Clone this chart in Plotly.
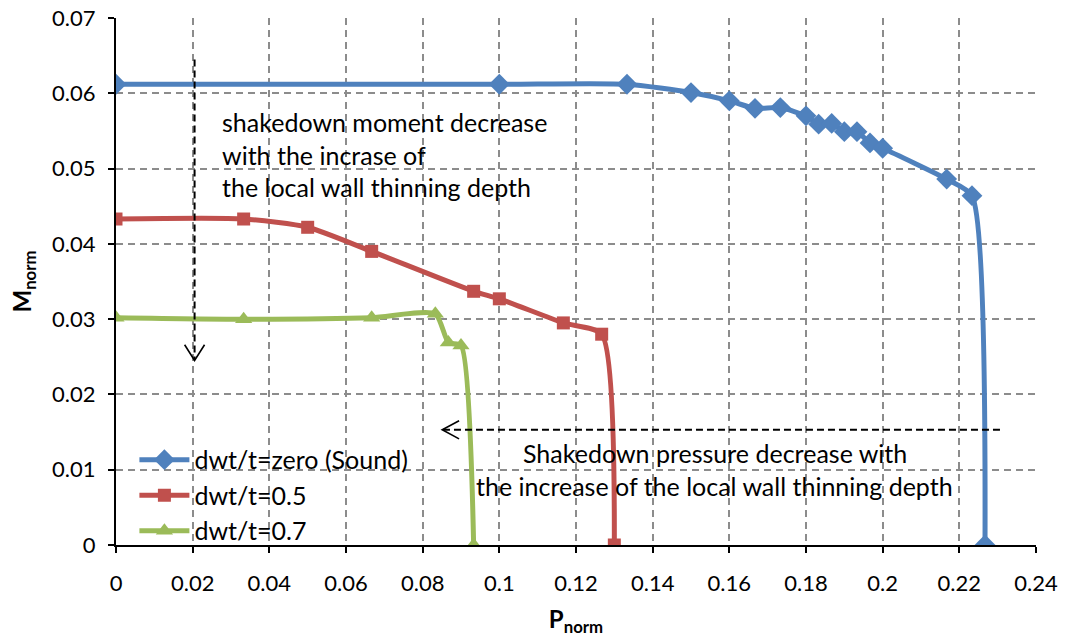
import plotly.graph_objects as go

# Normalised pressure / moment pairs for each wall-thinning depth
p_sound = [0, 0.1, 0.1333, 0.15, 0.16, 0.1667, 0.1733, 0.18, 0.1833, 0.1867,
           0.19, 0.1933, 0.1967, 0.2, 0.2167, 0.2233, 0.2267]
m_sound = [0.0612, 0.0612, 0.0612, 0.0601, 0.0590, 0.0580, 0.0581, 0.0570, 0.0559, 0.0560,
           0.0549, 0.0549, 0.0534, 0.0527, 0.0486, 0.0464, 0]

p_05 = [0, 0.0333, 0.05, 0.0667, 0.0933, 0.1, 0.1167, 0.1267, 0.13]
m_05 = [0.0433, 0.0433, 0.0422, 0.0390, 0.0337, 0.0327, 0.0295, 0.0280, 0]

p_07 = [0, 0.0333, 0.0667, 0.0833, 0.0867, 0.09, 0.0933]
m_07 = [0.0302, 0.0300, 0.0302, 0.0307, 0.0269, 0.0265, 0]

series_names = ["dwt/t=zero (Sound)", "dwt/t=0.5", "dwt/t=0.7"]

x_ticks = [0, 0.02, 0.04, 0.06, 0.08, 0.1, 0.12, 0.14, 0.16, 0.18, 0.2, 0.22, 0.24]
x_labels = ["0", "0.02", "0.04", "0.06", "0.08", "0.1", "0.12", "0.14", "0.16",
            "0.18", "0.2", "0.22", "0.24"]
y_ticks = [0, 0.01, 0.02, 0.03, 0.04, 0.05, 0.06, 0.07]
y_labels = ["0", "0.01", "0.02", "0.03", "0.04", "0.05", "0.06", "0.07"]

FONT = "Lato"
BLUE, RED, GREEN = "#4F81BD", "#C0504D", "#9BBB59"

fig = go.Figure()

for name, xs, ys, col, sym, size, grp in [
    (series_names[0], p_sound, m_sound, BLUE, "diamond", 16, "a"),
    (series_names[1], p_05, m_05, RED, "square", 13, "b"),
    (series_names[2], p_07, m_07, GREEN, "triangle-up", 15, "c"),
]:
    fig.add_trace(go.Scatter(
        x=xs, y=ys, name=name, mode="lines+markers", legendgroup=grp,
        line=dict(color=col, width=5, shape="spline", smoothing=0.6),
        marker=dict(symbol=sym, size=size, color=col),
    ))

# Dashed guide arrows
arrow_line = dict(color="black", width=2, dash="7px,4px")
fig.add_shape(type="line", x0=0.0205, y0=0.0645, x1=0.0205, y1=0.0246,
              line=arrow_line, layer="above")
fig.add_shape(type="path", path="M 0.0179 0.0266 L 0.0205 0.0245 L 0.0231 0.0266",
              line=dict(color="black", width=1.6), layer="above")
fig.add_shape(type="line", x0=0.2306, y0=0.0153, x1=0.0851, y1=0.0153,
              line=arrow_line, layer="above")
fig.add_shape(type="path", path="M 0.0895 0.0165 L 0.0851 0.0153 L 0.0895 0.0141",
              line=dict(color="black", width=1.6), layer="above")

# Explanatory text
note_font = dict(family=FONT, size=25, color="black")
for txt, y in [("shakedown moment decrease", 0.0562),
               ("with the incrase of", 0.0518),
               ("the local wall thinning depth", 0.0475)]:
    fig.add_annotation(x=0.027, y=y, text=txt, showarrow=False,
                       xanchor="left", yanchor="middle", font=note_font)
for txt, y in [("Shakedown pressure decrease with", 0.0122),
               ("the increase of the local wall thinning depth", 0.0078)]:
    fig.add_annotation(x=0.1562, y=y, text=txt, showarrow=False,
                       xanchor="center", yanchor="middle", font=note_font)

grid = dict(showgrid=True, gridcolor="#8C8C8C", gridwidth=1.5, griddash="7px,5px")

fig.update_layout(
    width=1069, height=640,
    margin=dict(l=116, r=33, t=18, b=95),
    paper_bgcolor="white", plot_bgcolor="white",
    font=dict(family=FONT, size=22, color="black"),
    xaxis=dict(range=[0, 0.24], tickvals=x_ticks, ticktext=x_labels,
               showline=True, linecolor="black", linewidth=2, zeroline=False,
               ticks="outside", ticklen=6, tickwidth=2, tickcolor="black",
               ticklabelstandoff=12, automargin=False,
               title=dict(text="<b>P<sub>norm</sub></b>", font=dict(family=FONT, size=24),
                          standoff=16),
               **grid),
    yaxis=dict(range=[0, 0.07], tickvals=y_ticks, ticktext=y_labels,
               showline=True, linecolor="black", linewidth=2, zeroline=False,
               ticks="outside", ticklen=6, tickwidth=2, tickcolor="black",
               ticklabelstandoff=8, automargin=False,
               title=dict(text="<b>M<sub>norm</sub></b>", font=dict(family=FONT, size=24),
                          standoff=14),
               **grid),
    legend=dict(x=0.02, y=0.205, xanchor="left", yanchor="top",
                bgcolor="rgba(0,0,0,0)", font=dict(family=FONT, size=25),
                traceorder="grouped", tracegroupgap=0, itemwidth=50),
    showlegend=True,
)

fig.write_html("out.html")
